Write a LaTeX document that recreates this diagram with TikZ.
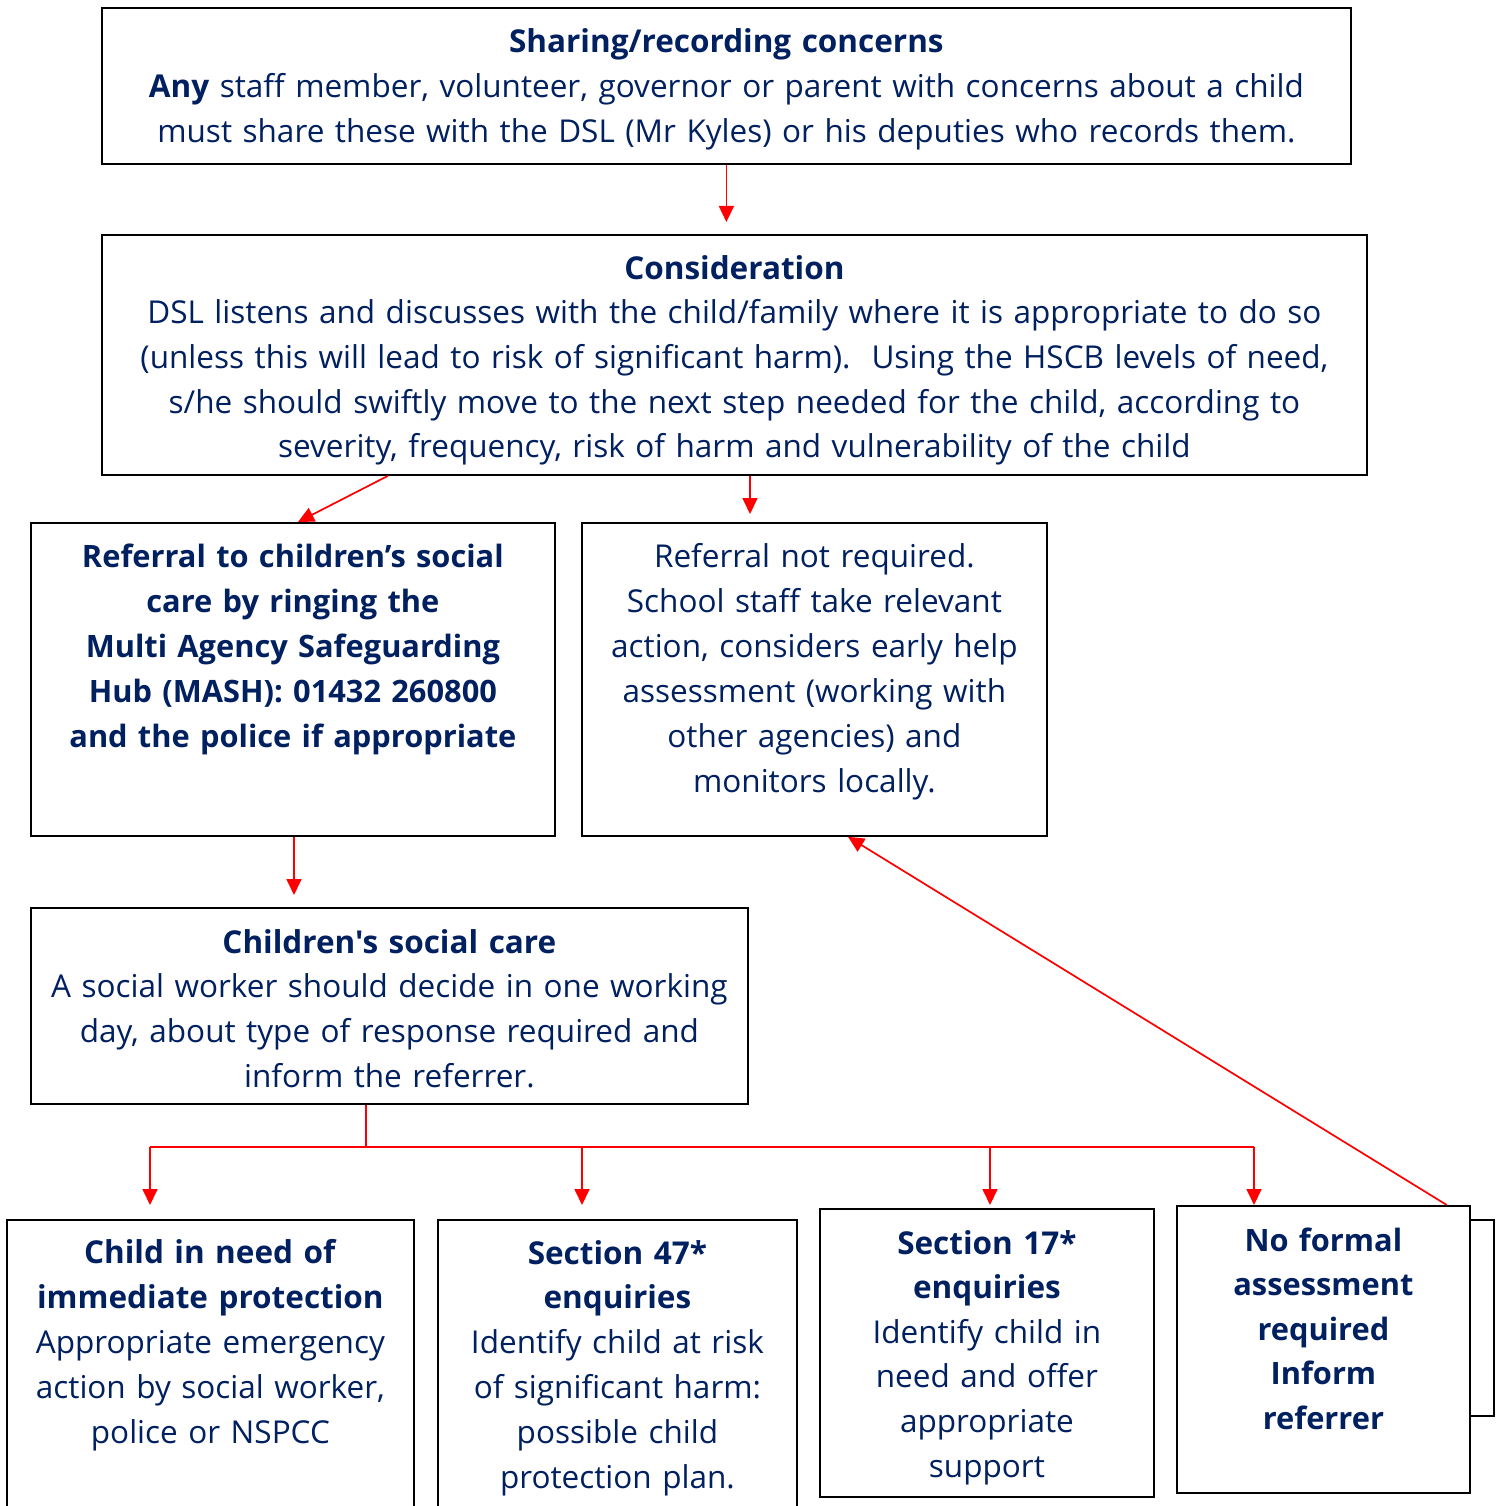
\documentclass[tikz,border=0pt]{standalone}
\usepackage{fontspec}
\setmainfont{Open Sans}[Ligatures=TeXOff]
\usetikzlibrary{arrows.meta}
\definecolor{navy}{RGB}{0,32,96}
\definecolor{arrowred}{RGB}{255,0,0}
\begin{document}
\begin{tikzpicture}[x=1pt,y=-1pt,
  boxnode/.style={draw=black, line width=1.8pt, fill=white, anchor=north west, inner sep=0pt},
  txt/.style={anchor=base, align=center, text=navy, inner sep=0pt, font=\fontsize{31.5}{44.7}\selectfont},
  arr/.style={draw=arrowred, line width=1.7pt, -{Triangle[length=16pt,width=15pt]}},
  ln/.style={draw=arrowred, line width=1.7pt}]
\useasboundingbox[fill=white] (0,0) rectangle (1500,1506);

% boxes
\node[boxnode, minimum width=1249pt, minimum height=156pt] (b1) at (101,7) {};
\node[boxnode, minimum width=1265pt, minimum height=240pt] (b2) at (101,234) {};
\node[boxnode, minimum width=524pt, minimum height=313pt] (b3) at (30,522) {};
\node[boxnode, minimum width=465pt, minimum height=313pt] (b4) at (581,522) {};
\node[boxnode, minimum width=717pt, minimum height=196pt] (b5) at (30,907) {};
\node[boxnode, minimum width=407pt, minimum height=300pt] (bA) at (6,1219) {};
\node[boxnode, minimum width=359pt, minimum height=300pt] (bB) at (437,1219) {};
\node[boxnode, minimum width=334pt, minimum height=288pt] (bC) at (819,1208) {};
\node[boxnode, minimum width=93pt, minimum height=196pt] (bDback) at (1400,1219) {};
\node[boxnode, minimum width=293pt, minimum height=287pt] (bD) at (1176,1205) {};

% texts
\node[txt, text width=1240pt] (t1) at ([yshift=-46pt]b1.north) {\textbf{Sharing/recording concerns}\\
\textbf{Any} staff member, volunteer, governor or parent with concerns about a child\\
must share these with the DSL (Mr Kyles) or his deputies who records them.};
\node[txt, text width=1260pt] (t2) at ([yshift=-45pt]b2.north) {\textbf{Consideration}\\
DSL listens and discusses with the child/family where it is appropriate to do so\\
(unless this will lead to risk of significant harm).\ \ Using the HSCB levels of need,\\
s/he should swiftly move to the next step needed for the child, according to\\
severity, frequency, risk of harm and vulnerability of the child};
\node[txt, text width=520pt, font=\fontsize{30.8}{45}\selectfont\bfseries] (t3) at ([yshift=-45pt]b3.north) {Referral to children’s social\\
care by ringing the\\
Multi Agency Safeguarding\\
Hub (MASH): 01432 260800\\
and the police if appropriate};
\node[txt, text width=460pt, font=\fontsize{31.5}{45}\selectfont] (t4) at ([yshift=-45pt]b4.north) {Referral not required.\\
School staff take relevant\\
action, considers early help\\
assessment (working with\\
other agencies) and\\
monitors locally.};
\node[txt, text width=712pt] (t5) at ([yshift=-46pt]b5.north) {\textbf{Children's social care}\\
A social worker should decide in one working\\
day, about type of response required and\\
inform the referrer.};
\node[txt, text width=404pt, font=\fontsize{31.5}{45}\selectfont] (tA) at ([yshift=-44pt]bA.north) {\textbf{Child in need of}\\
\textbf{immediate protection}\\
Appropriate emergency\\
action by social worker,\\
police or NSPCC};
\node[txt, text width=356pt, font=\fontsize{31.5}{44.8}\selectfont] (tB) at ([yshift=-45pt]bB.north) {\textbf{Section 47*}\\
\textbf{enquiries}\\
Identify child at risk\\
of significant harm:\\
possible child\\
protection plan.};
\node[txt, text width=330pt, font=\fontsize{31.5}{44.6}\selectfont] (tC) at ([yshift=-46pt]bC.north) {\textbf{Section 17*}\\
\textbf{enquiries}\\
Identify child in\\
need and offer\\
appropriate\\
support};
\node[txt, text width=290pt, font=\fontsize{30.8}{44.5}\selectfont\bfseries] (tD) at ([yshift=-46pt]bD.north) {No formal\\
assessment\\
required\\
Inform\\
referrer};

% connectors
\draw[arr] (b1.south) -- ([yshift=12pt]b1.south |- b2.north);
\draw[arr] ([xshift=287pt]b2.south west) -- ([xshift=268pt]b3.north west);
\draw[arr] ([xshift=649pt]b2.south west) -- ([xshift=169pt,yshift=8pt]b4.north west);
\draw[arr] ([xshift=264pt]b3.south west) -- ([xshift=264pt,yshift=12pt]b5.north west);

\coordinate (fork) at (366,1147);
\coordinate (fA) at (150,1147);
\coordinate (fB) at (582,1147);
\coordinate (fC) at (990,1147);
\coordinate (fD) at (1254,1147);
\draw[ln] ([xshift=336pt]b5.south west) -- (fork);
\draw[ln] (fA) -- (fD);
\draw[arr] (fA) -- ([xshift=144pt,yshift=14pt]bA.north west);
\draw[arr] (fB) -- ([xshift=145pt,yshift=14pt]bB.north west);
\draw[arr] (fC) -- ([xshift=171pt,yshift=3pt]bC.north west);
\draw[arr] (fD) -- ([xshift=78pt]bD.north west);

\draw[arr] ([xshift=-24pt]bD.north east) -- ([xshift=267pt]b4.south west);
\end{tikzpicture}
\end{document}
